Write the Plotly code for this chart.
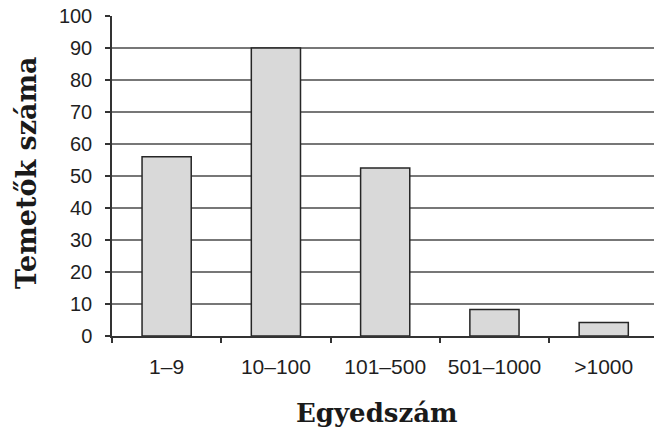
import plotly.graph_objects as go

# Cemetery counts by number of burials (individuals)
categories = ["1–9", "10–100", "101–500", "501–1000", ">1000"]
counts = [56, 90, 52.5, 8.3, 4.2]
y_ticks = [0, 10, 20, 30, 40, 50, 60, 70, 80, 90, 100]

fig = go.Figure(
    go.Bar(
        x=categories,
        y=counts,
        width=0.45,
        marker=dict(color="#d9d9d9", line=dict(color="#262626", width=1.5)),
    )
)

fig.update_layout(
    width=654,
    height=430,
    margin=dict(l=112, r=0, t=16, b=93.5),
    paper_bgcolor="white",
    plot_bgcolor="white",
    showlegend=False,
    xaxis=dict(
        type="category",
        range=[-0.5, 4.46],
        showgrid=False,
        showline=True,
        linecolor="#333333",
        linewidth=1.5,
        ticks="outside",
        tickson="boundaries",
        ticklen=5,
        tickcolor="#333333",
        tickwidth=1.5,
        ticklabelstandoff=11,
        tickfont=dict(family="Liberation Sans, Arial, sans-serif", size=21, color="#1f1f1f"),
    ),
    yaxis=dict(
        range=[0, 100],
        tickvals=y_ticks,
        showgrid=True,
        gridcolor="#777777",
        gridwidth=1.5,
        zeroline=False,
        showline=True,
        linecolor="#333333",
        linewidth=1.5,
        ticks="outside",
        ticklen=5,
        tickcolor="#333333",
        tickwidth=1.5,
        ticklabelstandoff=9,
        tickfont=dict(family="Liberation Sans, Arial, sans-serif", size=20, color="#1f1f1f"),
    ),
    annotations=[
        dict(
            text="<b>Temetők száma</b>",
            xref="paper", yref="paper",
            x=0, y=0.5,
            xanchor="center", yanchor="middle",
            xshift=-86, yshift=3,
            textangle=-90,
            showarrow=False,
            font=dict(family="DejaVu Serif, serif", size=27, color="#1a1a1a"),
        ),
        dict(
            text="<b>Egyedszám</b>",
            xref="paper", yref="paper",
            x=0.5, y=0,
            xanchor="center", yanchor="middle",
            xshift=-6, yshift=-76.5,
            showarrow=False,
            font=dict(family="DejaVu Serif, serif", size=26, color="#1a1a1a"),
        ),
    ],
)

fig.write_html("out.html")
